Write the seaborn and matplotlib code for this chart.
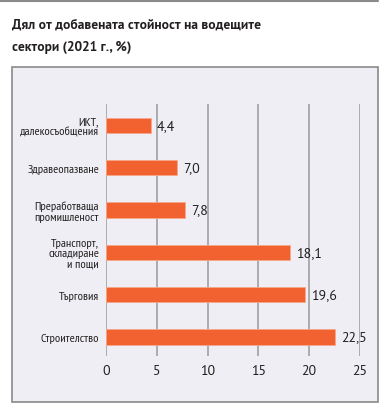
import matplotlib
matplotlib.use('Agg')
import matplotlib.pyplot as plt
import seaborn as sns
import pandas as pd
from matplotlib.patches import Rectangle
from matplotlib.lines import Line2D

sectors = ['ИКТ,\nдалекосъобщения', 'Здравеопазване', 'Преработваща\nпромишленост',
           'Транспорт,\nскладиране\nи пощи', 'Търговия', 'Строителство']
shares = [4.4, 7.0, 7.8, 18.1, 19.6, 22.5]
share_labels = ['4,4', '7,0', '7,8', '18,1', '19,6', '22,5']
x_ticks = [0, 5, 10, 15, 20, 25]

df = pd.DataFrame({'sector': sectors, 'share': shares})

sns.set_style('white')
plt.rcParams['font.family'] = ['PT Sans Narrow', 'DejaVu Sans']

fig = plt.figure(figsize=(3.9, 4.1), dpi=100)

# grey panel behind the chart
fig.patches.append(Rectangle((12 / 390, 1 - 403 / 410), 366 / 390, 335 / 410,
                             transform=fig.transFigure, facecolor='#EEEEF4',
                             edgecolor='#8a8a8a', linewidth=1.2, zorder=-5))
fig.lines.append(Line2D([0, 378 / 390], [1 - 2 / 410, 1 - 2 / 410],
                        transform=fig.transFigure, color='#8a8a8a', linewidth=1.5))

title_font = ['PT Sans', 'DejaVu Sans']
fig.text(12 / 390, 1 - 25 / 410, 'Дял от добавената стойност на водещите',
         fontsize=9.7, fontweight='bold', family=title_font,
         color='#231f20', va='center')
fig.text(12 / 390, 1 - 47 / 410, 'сектори (2021 г., %)',
         fontsize=9.7, fontweight='bold', family=title_font,
         color='#231f20', va='center')

ax = fig.add_axes([106 / 390, 1 - 357 / 410, 254 / 390, 252 / 410])
ax.patch.set_alpha(0)
ax.set_zorder(2)

sns.barplot(data=df, x='share', y='sector', orient='h', color='#F26130',
            width=0.36, edgecolor='#F8A88A', linewidth=0.6, saturation=1, ax=ax, zorder=3)

num_font = ['PT Sans', 'DejaVu Sans']
for i, (v, t) in enumerate(zip(shares, share_labels)):
    ax.text(v + 0.6, i, t, va='center', ha='left', fontsize=10,
            family=num_font, color='#231f20', zorder=4)

ax.set_xlim(0, 25)
ax.set_ylim(5.45, -0.5)
ax.set_xticks(x_ticks)
ax.set_xticklabels([str(t) for t in x_ticks], fontsize=10,
                   family=num_font, color='#231f20')
ax.tick_params(axis='y', labelsize=8.8, colors='#231f20', length=0, pad=5)
ax.tick_params(axis='x', length=0, pad=6)
for lab in ax.get_yticklabels():
    lab.set_linespacing(1.05)
ax.set_xlabel('')
ax.set_ylabel('')
for s in ax.spines.values():
    s.set_visible(False)
for t in x_ticks:
    ax.axvline(t, color='#9a9a9a', linewidth=1.1, zorder=1)

fig.savefig('out.png', dpi=100)
